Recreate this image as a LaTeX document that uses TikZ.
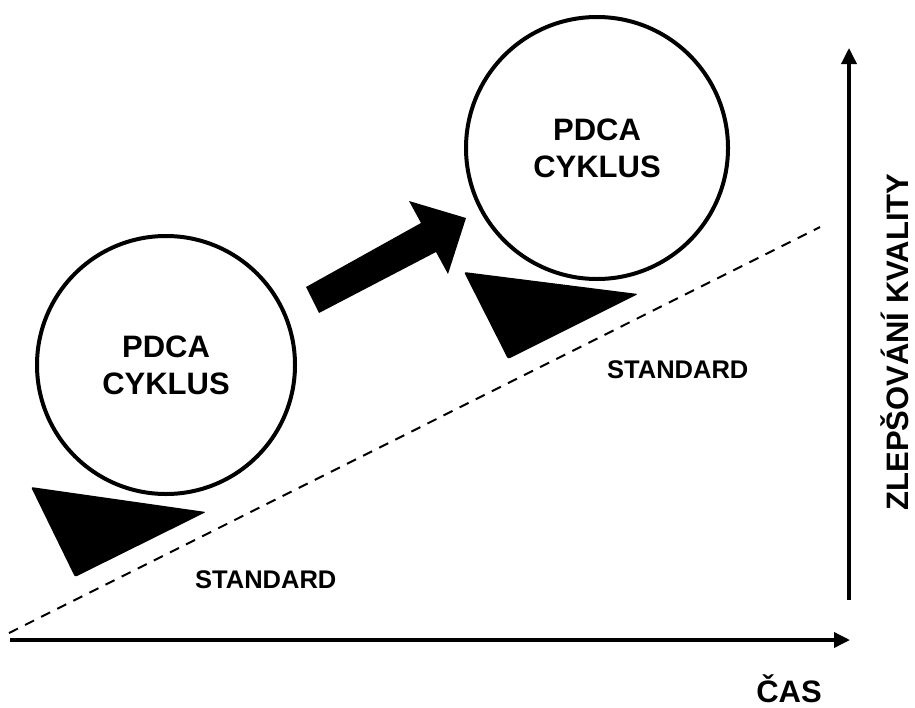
\documentclass[tikz,border=0pt]{standalone}
\usepackage{fontspec}
\setmainfont{Liberation Sans}
\usetikzlibrary{arrows.meta}
\begin{document}
\begin{tikzpicture}[x=1pt,y=-1pt,
  bigtext/.style={font=\bfseries\fontsize{31}{37}\selectfont},
  smalltext/.style={font=\bfseries\fontsize{25.5}{30}\selectfont},
  cycle/.style={circle,draw=black,line width=4pt,inner sep=0pt,align=center,bigtext},
  axis/.style={line width=3.5pt,-{Triangle[length=16pt,width=15pt]}},
  baseline/.style={line width=2pt,dash pattern=on 10pt off 8pt},
  wedge/.style={fill=black,rounded corners=2pt},
  jump/.style={fill=black}]
\useasboundingbox (0,0) rectangle (915,707);

% standard (dashed) line
\coordinate (s0) at (9,633);
\coordinate (s1) at (820,227);
\draw[baseline] (s0) -- (s1);

% axes
\coordinate (origin) at (10,640);
\coordinate (xend) at (850,640);
\coordinate (ybase) at (849,600);
\coordinate (yend) at (849,48);
\draw[axis] (origin) -- (xend);
\draw[axis] (ybase) -- (yend);

% wedges holding the cycles on the slope
\fill[wedge] (31,487) -- (206,512) -- (75,577) -- cycle;
\fill[wedge] (464,272) -- (638,294) -- (508,359) -- cycle;

% PDCA cycles
\node[cycle,minimum size=258pt] (c1) at (166,365) {PDCA\\CYKLUS};
\node[cycle,minimum size=262pt] (c2) at (597,148) {PDCA\\CYKLUS};

% block arrow between the cycles
\fill[jump] (306,287) -- (421,223) -- (409,201) -- (466,218) -- (448,274) -- (436,252) -- (319,313) -- cycle;

% labels
\node[smalltext,anchor=base west,inner sep=0pt] (st1) at (195,588) {STANDARD};
\node[smalltext,anchor=base west,inner sep=0pt] (st2) at (607,378) {STANDARD};
\node[bigtext,anchor=base east,inner sep=0pt] (cas) at (822,702) {ČAS};
\node[bigtext,rotate=90,anchor=base,inner sep=0pt] (kval) at (908,342) {ZLEPŠOVÁNÍ KVALITY};
\end{tikzpicture}
\end{document}
